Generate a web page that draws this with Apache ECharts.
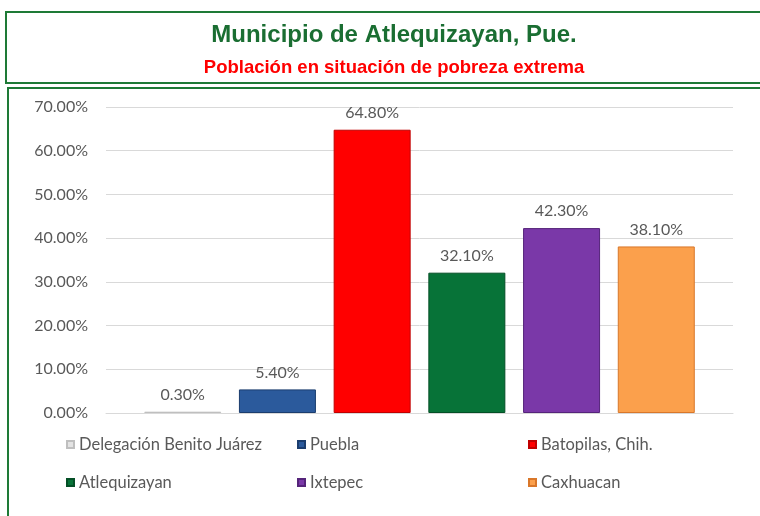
<!DOCTYPE html>
<html>
<head>
<meta charset="utf-8">
<title>Pobreza extrema</title>
<script src="https://cdn.jsdelivr.net/npm/echarts@6/dist/echarts.min.js"></script>
<style>
  html, body { margin: 0; padding: 0; background: #fff; }
  #chart { width: 760px; height: 516px; }
</style>
</head>
<body>
<div id="chart"></div>
<script>
// datos
const nombres = ['Delegación Benito Juárez', 'Puebla', 'Batopilas, Chih.', 'Atlequizayan', 'Ixtepec', 'Caxhuacan']
const valores = [0.3, 5.4, 64.8, 32.1, 42.3, 38.1]
const colores = ['#E3E3E3', '#2B5A9C', '#FF0000', '#077338', '#7A38A8', '#FBA04C']
const bordes = ['#BFBFBF', '#1B3D6E', '#C00000', '#044F26', '#55247A', '#D9772A']
const ticks = [0, 10, 20, 30, 40, 50, 60, 70]

const myChart = echarts.init(document.getElementById('chart'))

const series = nombres.map(function (n, i) {
  return {
    name: n,
    type: 'bar',
    data: [valores[i]],
    barWidth: 77,
    barGap: '23%',
    itemStyle: {
      color: colores[i],
      borderColor: bordes[i],
      borderWidth: 1
    },
    label: {
      show: true,
      position: 'top',
      distance: 9,
      formatter: function (p) { return p.value.toFixed(2) + '%' },
      color: '#595959',
      fontFamily: 'Lato',
      fontSize: 16
    }
  }
})

// tres columnas de leyenda, dos filas cada una
const colX = [61, 292, 523]
const legends = colX.map(function (x, c) {
  return {
    orient: 'vertical',
    left: x,
    top: 430,
    itemWidth: 7,
    itemHeight: 7,
    itemGap: 19,
    icon: 'rect',
    selectedMode: false,
    data: [nombres[c], nombres[c + 3]],
    textStyle: {
      color: '#595959',
      fontFamily: 'Lato',
      fontSize: 16.5,
      lineHeight: 19
    }
  }
})

myChart.setOption({
  animation: false,
  title: {
    text: 'Municipio de Atlequizayan, Pue.',
    subtext: 'Población en situación de pobreza extrema',
    left: 389,
    top: 18,
    textAlign: 'center',
    itemGap: 11,
    textStyle: {
      color: '#1A6E32',
      fontFamily: 'Liberation Sans',
      fontWeight: 'bold',
      fontSize: 24
    },
    subtextStyle: {
      color: '#FF0000',
      fontFamily: 'Liberation Sans',
      fontWeight: 'bold',
      fontSize: 18.5
    }
  },
  legend: legends,
  // recuadros verdes
  graphic: [
    {
      type: 'rect',
      shape: { x: 6, y: 12, width: 800, height: 71 },
      style: { fill: 'none', stroke: '#1E7A36', lineWidth: 2 },
      z: -1
    },
    {
      type: 'rect',
      shape: { x: 8, y: 88, width: 800, height: 460 },
      style: { fill: 'none', stroke: '#1E7A36', lineWidth: 2 },
      z: -1
    }
  ],
  grid: {
    left: 106,
    right: 27,
    top: 107,
    bottom: 103
  },
  xAxis: {
    type: 'category',
    data: [''],
    axisLine: { lineStyle: { color: '#D9D9D9' } },
    axisTick: { show: false },
    axisLabel: { show: false }
  },
  yAxis: {
    type: 'value',
    min: ticks[0],
    max: ticks[ticks.length - 1],
    interval: 10,
    axisLine: { show: false },
    axisTick: { show: false },
    splitLine: { lineStyle: { color: '#D9D9D9', width: 1 } },
    axisLabel: {
      margin: 18,
      color: '#595959',
      fontFamily: 'Lato',
      fontSize: 16,
      formatter: function (v) { return v.toFixed(2) + '%' }
    }
  },
  series: series
})
</script>
</body>
</html>
